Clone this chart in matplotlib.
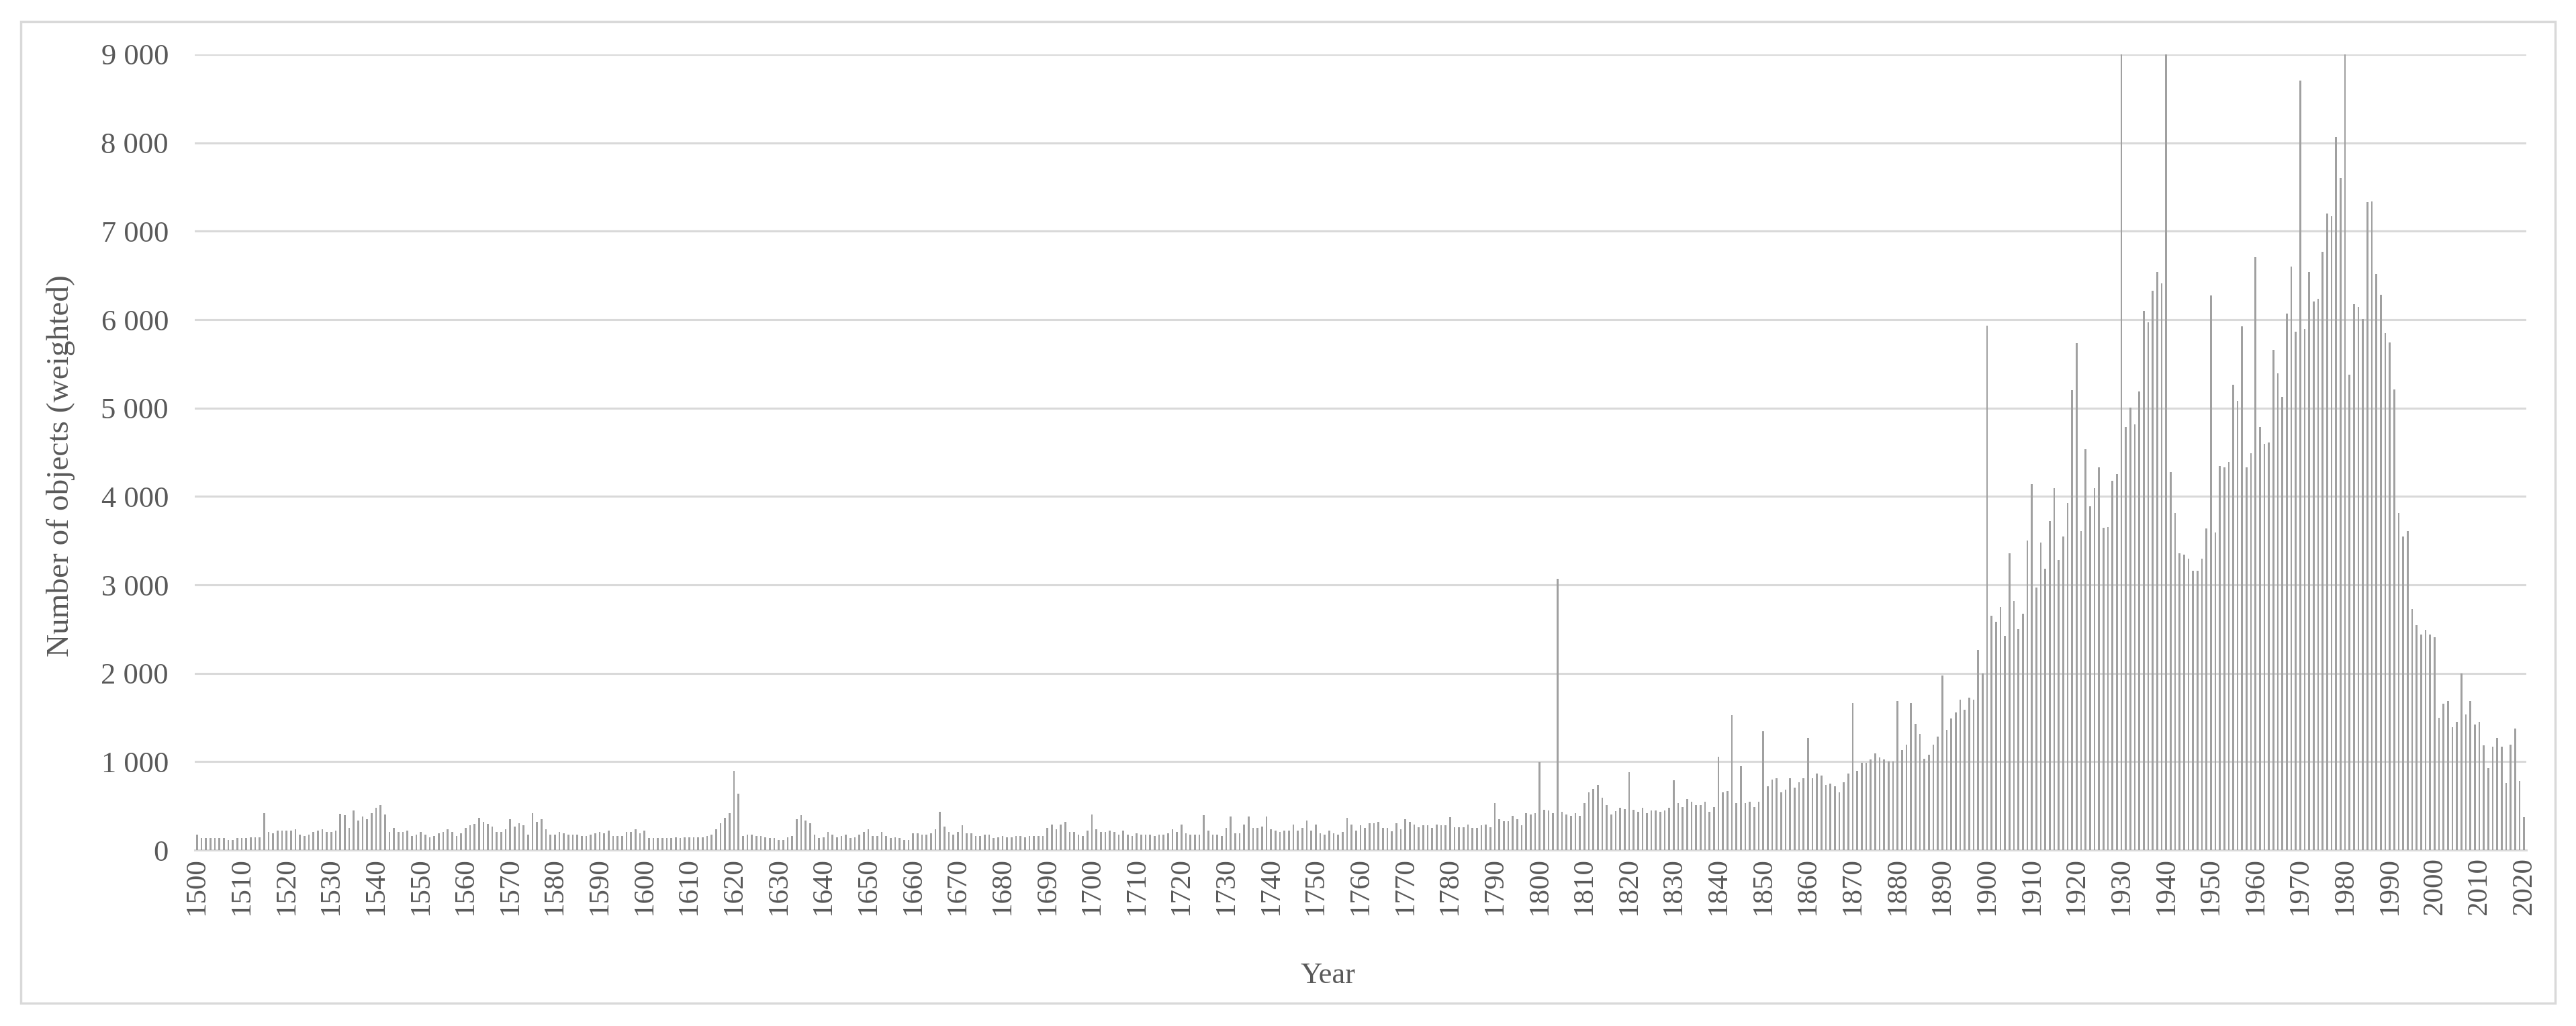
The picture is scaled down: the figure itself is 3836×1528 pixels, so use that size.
import matplotlib.pyplot as plt
import numpy as np
from matplotlib.patches import Rectangle

# one value per year, 1500..2020 (weighted object counts)
years = np.arange(1500, 2021)
counts = [
    177, 134, 134, 134, 134, 134, 134, 116, 116, 134,    # 1500
    134, 134, 147, 147, 147, 420, 205, 192, 220, 220,    # 1510
    220, 220, 235, 172, 160, 177, 205, 220, 235, 205,    # 1520
    205, 220, 407, 392, 248, 450, 334, 380, 349, 420,    # 1530
    478, 506, 405, 205, 248, 205, 205, 220, 160, 177,    # 1540
    205, 177, 147, 160, 192, 205, 235, 205, 160, 192,    # 1550
    248, 278, 293, 362, 321, 293, 263, 205, 205, 235,    # 1560
    349, 263, 306, 278, 177, 420, 321, 349, 235, 177,    # 1570
    177, 205, 192, 177, 177, 177, 160, 160, 177, 192,    # 1580
    205, 192, 220, 160, 160, 160, 205, 205, 235, 192,    # 1590
    220, 134, 134, 134, 134, 134, 134, 147, 134, 147,    # 1600
    147, 147, 147, 147, 160, 177, 235, 306, 362, 420,    # 1610
    893, 635, 160, 177, 177, 160, 160, 147, 134, 134,    # 1620
    116, 116, 147, 160, 349, 392, 334, 306, 177, 134,    # 1630
    147, 205, 177, 147, 160, 177, 134, 147, 177, 205,    # 1640
    235, 160, 160, 205, 160, 134, 147, 134, 116, 116,    # 1650
    192, 192, 177, 177, 192, 235, 433, 263, 205, 177,    # 1660
    205, 278, 192, 192, 160, 160, 177, 177, 134, 147,    # 1670
    160, 147, 147, 160, 160, 147, 160, 160, 160, 160,    # 1680
    248, 286, 235, 286, 321, 205, 205, 177, 160, 220,    # 1690
    405, 235, 205, 205, 220, 205, 177, 220, 177, 160,    # 1700
    192, 177, 177, 177, 160, 177, 177, 192, 235, 205,    # 1710
    286, 192, 177, 177, 177, 392, 220, 177, 177, 160,    # 1720
    248, 380, 192, 192, 286, 380, 248, 248, 263, 380,    # 1730
    235, 220, 205, 220, 220, 286, 220, 248, 334, 220,    # 1740
    286, 192, 177, 220, 192, 177, 205, 362, 286, 220,    # 1750
    278, 248, 306, 306, 316, 248, 248, 215, 304, 233,    # 1760
    349, 316, 291, 261, 278, 278, 248, 291, 278, 278,    # 1770
    374, 261, 261, 261, 291, 248, 248, 278, 291, 261,    # 1780
    531, 349, 329, 329, 387, 349, 278, 417, 405, 417,    # 1790
    994, 458, 445, 417, 3069, 430, 405, 387, 417, 387,   # 1800
    531, 653, 691, 734, 589, 506, 400, 438, 476, 463,    # 1810
    880, 458, 430, 476, 417, 445, 445, 430, 445, 476,    # 1820
    792, 531, 488, 577, 546, 506, 506, 546, 430, 488,    # 1830
    1052, 653, 665, 1525, 531, 951, 531, 546, 488, 546,  # 1840
    1341, 723, 795, 810, 650, 680, 810, 709, 768, 810,   # 1850
    1271, 810, 869, 845, 739, 751, 721, 650, 768, 869,   # 1860
    1667, 898, 987, 987, 1022, 1093, 1046, 1022, 1005, 999,      # 1870
    1684, 1135, 1194, 1667, 1430, 1312, 1034, 1082, 1194, 1282,  # 1880
    1974, 1359, 1489, 1554, 1702, 1584, 1726, 1702, 2264, 1998,  # 1890
    5928, 2648, 2583, 2748, 2423, 3357, 2819, 2500, 2677, 3505,  # 1900
    4137, 2967, 3475, 3180, 3723, 4090, 3280, 3546, 3930, 5201,  # 1910
    5733, 3605, 4533, 3889, 4090, 4326, 3646, 3652, 4178, 4255,  # 1920
    9500, 4787, 5006, 4817, 5189, 6099, 5969, 6324, 6542, 6412,  # 1930
    9500, 4279, 3812, 3357, 3339, 3298, 3162, 3162, 3298, 3635,  # 1940
    6276, 3593, 4344, 4332, 4391, 5260, 5083, 5922, 4326, 4492,  # 1950
    6708, 4787, 4598, 4610, 5656, 5390, 5124, 6070, 6601, 5863,  # 1960
    8705, 5892, 6542, 6206, 6235, 6767, 7198, 7169, 8067, 7606,  # 1970
    9500, 5378, 6176, 6146, 6010, 7328, 7340, 6519, 6282, 5851,  # 1980
    5744, 5213, 3812, 3546, 3605, 2730, 2541, 2441, 2494, 2441,  # 1990
    2411, 1495, 1655, 1684, 1389, 1448, 1998, 1537, 1684, 1418,  # 2000
    1448, 1182, 928, 1170, 1271, 1170, 756, 1194, 1371, 786,     # 2010
    372,                                                         # 2020
]

y_ticks = np.arange(0, 9001, 1000)
x_ticks = np.arange(1500, 2021, 10)

plt.rcParams['font.family'] = ['Liberation Serif', 'DejaVu Serif']
txt = '#595959'
grid = '#d9d9d9'

fig = plt.figure(figsize=(38.37, 15.28), dpi=100)
ax = fig.add_axes([290 / 3837, 1 - 1266 / 1528, 3472 / 3837, 1185 / 1528])

ax.bar(years, counts, width=0.4, color='#a0a0a0', zorder=3)

ax.set_xlim(1499.5, 2020.5)
ax.set_ylim(0, 9000)
ax.set_yticks(y_ticks)
ax.set_yticklabels([f'{v:,}'.replace(',', ' ') for v in y_ticks])
ax.set_xticks(x_ticks)
ax.set_xticklabels([str(v) for v in x_ticks], rotation=90)

ax.yaxis.grid(True, color=grid, linewidth=2.2, zorder=0)
ax.set_axisbelow(True)
for s in ['top', 'right', 'left']:
    ax.spines[s].set_visible(False)
ax.spines['bottom'].set_color(grid)
ax.spines['bottom'].set_linewidth(2.2)

ax.tick_params(axis='y', length=0, pad=28, labelsize=32, labelcolor=txt)
ax.tick_params(axis='x', length=0, pad=8, labelsize=31, labelcolor=txt)

ax.set_xlabel('Year', fontsize=32, color=txt)
ax.xaxis.set_label_coords(0.486, -0.158)
ax.xaxis.label.set_va('center')
ax.set_ylabel('Number of objects (weighted)', fontsize=34, color=txt)
ax.yaxis.set_label_coords(-0.0576, 0.483)
ax.yaxis.label.set_va('center')

# light frame around the whole chart
fig.patches.append(Rectangle((31 / 3837, 1 - 1494 / 1528), 3774 / 3837, 1462 / 1528,
                             transform=fig.transFigure, fill=False,
                             edgecolor=grid, linewidth=2.5))

fig.savefig('out.png', dpi=100, facecolor='white')
